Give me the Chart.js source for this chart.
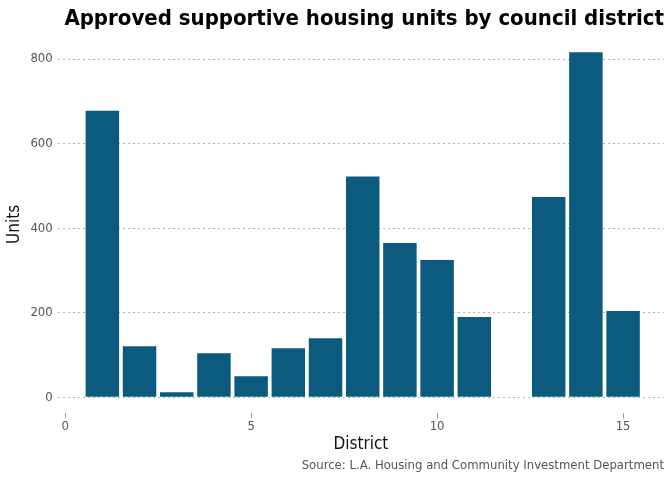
<!DOCTYPE html>
<html>
<head>
<meta charset="utf-8">
<script src="https://cdn.jsdelivr.net/npm/chart.js@4.4.1/dist/chart.umd.min.js"></script>
<style>
  html, body { margin:0; padding:0; background:#fff; }
  #wrap { width:672px; height:480px; position:relative; }
</style>
</head>
<body>
<div id="wrap"><canvas id="housingChart"></canvas></div>
<script>
/* ========================= */
/* DATA */
/* ========================= */

const districts = [1, 2, 3, 4, 5, 6, 7, 8, 9, 10, 11, 13, 14, 15];
const units = [678, 121, 12, 104, 50, 116, 140, 522, 365, 325, 190, 474, 816, 204];

const xTicks = [0, 5, 10, 15];
const yTicks = [0, 200, 400, 600, 800];

const FONT = "'Liberation Sans Narrow', 'DejaVu Sans Condensed', Roboto, sans-serif";

const points = districts.map((d, i) => ({ x: d, y: units[i] }));

/* ========================= */
/* CHART */
/* ========================= */

new Chart(
document.getElementById("housingChart"),
{
  type: 'bar',
  data: {
    datasets: [{
      label: 'Units',
      data: points,
      backgroundColor: '#0c5a7e',
      barPercentage: 0.9,
      categoryPercentage: 1.0,
      borderWidth: 0
    }]
  },
  options: {
    responsive: true,
    maintainAspectRatio: false,
    animation: false,
    layout: {
      padding: { left: 4, right: 8, top: 0, bottom: 7 }
    },
    plugins: {
      legend: { display: false },
      tooltip: { enabled: false },
      title: {
        display: true,
        text: 'Approved supportive housing units by council district',
        align: 'end',
        color: '#000',
        font: { family: FONT, size: 22, weight: 'bold' },
        padding: { top: 6, bottom: 3 }
      },
      subtitle: {
        display: true,
        position: 'bottom',
        align: 'end',
        text: 'Source: L.A. Housing and Community Investment Department',
        color: '#555',
        font: { family: FONT, size: 13 },
        padding: { top: 3, bottom: 0 }
      }
    },
    scales: {
      x: {
        type: 'linear',
        offset: false,
        min: -0.2,
        max: 16.1,
        afterBuildTicks: (scale) => {
          scale.ticks = xTicks.map(v => ({ value: v }));
        },
        grid: {
          offset: false,
          drawOnChartArea: false,
          drawTicks: true,
          tickLength: 5,
          tickColor: '#999'
        },
        border: { display: false },
        ticks: {
          color: '#555',
          font: { family: FONT, size: 13 },
          padding: 0,
          maxRotation: 0
        },
        title: {
          display: true,
          text: 'District',
          color: '#111',
          font: { family: FONT, size: 17 },
          padding: { top: 0, bottom: 0 }
        }
      },
      y: {
        min: -38,
        max: 856,
        afterBuildTicks: (scale) => {
          scale.ticks = yTicks.map(v => ({ value: v }));
        },
        grid: {
          drawTicks: false,
          color: '#b5b5b5',
          lineWidth: 1
        },
        border: { display: false, dash: [2, 3] },
        ticks: {
          color: '#555',
          font: { family: FONT, size: 13 },
          padding: 5
        },
        title: {
          display: true,
          text: 'Units',
          color: '#111',
          font: { family: FONT, size: 17 },
          padding: { top: 0, bottom: 1 }
        }
      }
    }
  }
});
</script>
</body>
</html>
